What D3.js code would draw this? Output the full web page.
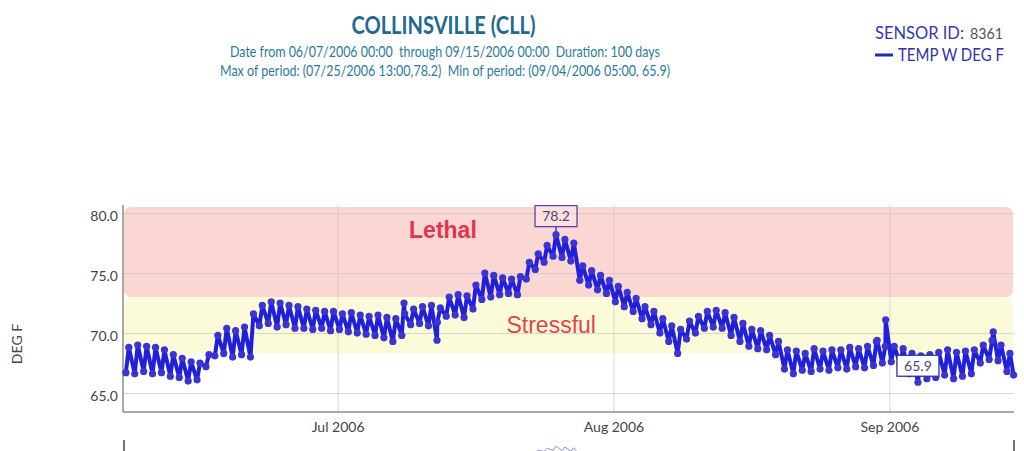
<!DOCTYPE html>
<html>
<head>
<meta charset="utf-8">
<script src="https://cdn.jsdelivr.net/npm/d3@7"></script>
<style>
  body { margin: 0; background: #fff; }
  svg { display: block; font-family: "Lato", "Noto Sans", sans-serif; }
  .pre { white-space: pre; }
</style>
</head>
<body>
<div id="chart"></div>
<script>
var svgWidth = 1024;
var svgHeight = 451;

var margin = { top: 205, right: 10, bottom: 39, left: 123 };
var width = svgWidth - margin.left - margin.right;
var height = svgHeight - margin.top - margin.bottom;

// daily readings (deg F), one low (early morning) and one high (afternoon) per day, 06/07 .. 09/14
var firstDay = "2006-06-07";
var lowTemps = [
  66.7, 66.6, 66.8, 66.6, 66.7, 66.4, 66.3, 66.0, 66.1, 67.2,
  68.1, 68.3, 68.0, 68.2, 68.0, 70.6, 70.8, 70.5, 70.7, 70.4,
  70.4, 70.3, 70.4, 70.2, 70.3, 70.1, 70.0, 69.9, 69.8, 69.6,
  69.3, 69.8, 70.7, 70.8, 70.6, 70.9, 71.4, 71.5, 71.3, 72.0,
  72.8, 73.0, 73.2, 73.3, 73.2, 74.5, 75.3, 75.9, 76.4, 76.3,
  76.0, 74.4, 74.0, 73.6, 73.3, 72.6, 72.2, 71.8, 71.2, 70.7,
  70.0, 69.3, 68.3, 69.5, 70.0, 70.4, 70.5, 70.4, 69.8, 69.3,
  68.9, 68.7, 68.6, 68.2, 67.0, 66.6, 66.9, 66.8, 67.0, 66.9,
  67.1, 67.0, 67.2, 67.1, 67.3, 67.5, 67.6, 67.4, 66.6, 65.9,
  66.2, 66.3, 66.5, 66.2, 66.4, 66.6, 67.5, 67.8, 67.7, 66.8
];
var highTemps = [
  68.8, 69.0, 68.9, 68.8, 68.6, 68.2, 67.9, 67.6, 67.5, 68.2,
  69.8, 70.4, 70.2, 70.5, 71.6, 72.3, 72.6, 72.5, 72.3, 72.2,
  72.0, 71.9, 71.8, 71.8, 71.6, 71.7, 71.5, 71.4, 71.5, 71.3,
  71.2, 71.6, 72.0, 72.2, 72.3, 72.1, 73.0, 73.2, 73.1, 74.0,
  75.0, 74.8, 74.6, 74.5, 74.7, 75.9, 76.6, 77.3, 78.2, 77.8,
  77.5, 75.6, 75.2, 74.8, 74.4, 73.9, 73.4, 72.9, 72.2, 71.8,
  71.2, 70.6, 70.3, 71.0, 71.4, 71.8, 71.9, 71.7, 71.3, 70.8,
  70.3, 70.2, 69.8, 69.3, 68.6, 68.5, 68.3, 68.7, 68.5, 68.6,
  68.6, 68.8, 68.7, 68.9, 69.3, 68.9, 68.9, 68.7, 68.3, 68.1,
  68.2, 68.4, 68.6, 68.4, 68.5, 68.6, 69.0, 69.4, 69.0, 68.3
];
// single odd readings (spikes / dips) and the last reading
var extraTimes = ["2006-07-08 11:00", "2006-07-12 04:00", "2006-08-30 15:00", "2006-08-31 14:00", "2006-09-12 16:00", "2006-09-14 23:00"];
var extraTemps = [72.5, 69.4, 69.4, 71.1, 70.1, 66.5];

var yTicks = [65, 70, 75, 80];
var xTicks = ["2006-07-01", "2006-08-01", "2006-09-01"];

// threshold bands
var bandNames = ["Stressful", "Lethal"];
var bandLow = [68.3, 73.0];
var bandHigh = [73.0, 80.5];
var bandColors = ["#fcfbd9", "#fbd7d3"];
// band labels: [time, value]
var bandLabelTimes = ["2006-07-25 00:00", "2006-07-12 20:00"];
var bandLabelTemps = [70.7, 78.6];

var parseDay = d3.timeParse("%Y-%m-%d");
var parseTime = d3.timeParse("%Y-%m-%d %H:%M");

// build the series
var series = [];
var day0 = parseDay(firstDay);
lowTemps.forEach(function(v, i) {
  series.push({ t: d3.timeHour.offset(d3.timeDay.offset(day0, i), 5), v: v });
  series.push({ t: d3.timeHour.offset(d3.timeDay.offset(day0, i), 13), v: highTemps[i] });
});
extraTimes.forEach(function(s, i) {
  series.push({ t: parseTime(s), v: extraTemps[i] });
});
series.sort(function(a, b) { return a.t - b.t; });

var svg = d3.select("#chart")
  .append("svg")
  .attr("width", svgWidth)
  .attr("height", svgHeight);

// header (source font is a condensed sans, so squeeze lines to the measured widths)
svg.append("text")
  .attr("x", 443.5)
  .attr("y", 34)
  .attr("text-anchor", "middle")
  .attr("font-size", "25px")
  .attr("font-weight", "bold")
  .attr("fill", "#1f6a8e")
  .attr("textLength", 184)
  .attr("lengthAdjust", "spacingAndGlyphs")
  .text("COLLINSVILLE (CLL)");

svg.append("text")
  .attr("class", "pre")
  .attr("x", 445)
  .attr("y", 57)
  .attr("text-anchor", "middle")
  .attr("font-size", "16px")
  .attr("fill", "#2b7b9e")
  .attr("textLength", 430)
  .attr("lengthAdjust", "spacingAndGlyphs")
  .text("Date from 06/07/2006 00:00  through 09/15/2006 00:00  Duration: 100 days");

svg.append("text")
  .attr("class", "pre")
  .attr("x", 445)
  .attr("y", 76)
  .attr("text-anchor", "middle")
  .attr("font-size", "16px")
  .attr("fill", "#2b7b9e")
  .attr("textLength", 450)
  .attr("lengthAdjust", "spacingAndGlyphs")
  .text("Max of period: (07/25/2006 13:00,78.2)  Min of period: (09/04/2006 05:00, 65.9)");

// legend
var legend = svg.append("g").attr("transform", "translate(875, 0)");
legend.append("text")
  .attr("x", 0).attr("y", 39)
  .attr("font-size", "16.5px")
  .attr("fill", "#3838b4")
  .attr("textLength", 89)
  .attr("lengthAdjust", "spacingAndGlyphs")
  .text("SENSOR ID:");
legend.append("text")
  .attr("x", 95).attr("y", 39)
  .attr("font-size", "16px")
  .attr("fill", "#555")
  .attr("textLength", 33)
  .attr("lengthAdjust", "spacingAndGlyphs")
  .text("8361");
legend.append("line")
  .attr("x1", 0).attr("x2", 18)
  .attr("y1", 55).attr("y2", 55)
  .attr("stroke", "#2424c8")
  .attr("stroke-width", 3);
legend.append("text")
  .attr("x", 23).attr("y", 61)
  .attr("font-size", "16.5px")
  .attr("fill", "#3030b0")
  .attr("textLength", 106)
  .attr("lengthAdjust", "spacingAndGlyphs")
  .text("TEMP W DEG F");

var chartGroup = svg.append("g")
  .attr("transform", `translate(${margin.left}, ${margin.top})`);

var xTimeScale = d3.scaleTime()
  .domain([parseDay("2006-06-07"), parseDay("2006-09-15")])
  .range([1, width]);

var yLinearScale = d3.scaleLinear()
  .domain([63.42, 80.67])
  .range([height, 0]);

// bands
chartGroup.selectAll("rect.band")
  .data(bandNames)
  .enter()
  .append("rect")
  .attr("class", "band")
  .attr("x", xTimeScale.range()[0])
  .attr("width", xTimeScale.range()[1] - xTimeScale.range()[0] - 1)
  .attr("y", (d, i) => yLinearScale(bandHigh[i]))
  .attr("height", (d, i) => yLinearScale(bandLow[i]) - yLinearScale(bandHigh[i]))
  .attr("rx", 7)
  .attr("fill", (d, i) => bandColors[i]);

// gridlines
chartGroup.append("g")
  .call(d3.axisLeft(yLinearScale).tickValues(yTicks).tickSize(-width).tickFormat(""))
  .call(g => g.select(".domain").remove())
  .selectAll("line")
  .attr("stroke", "#c8c8c8")
  .attr("stroke-opacity", 0.7);

chartGroup.append("g")
  .attr("transform", `translate(0, ${height})`)
  .call(d3.axisBottom(xTimeScale).tickValues(xTicks.map(parseDay)).tickSize(-height).tickFormat(""))
  .call(g => g.select(".domain").remove())
  .selectAll("line")
  .attr("stroke", "#c8c8c8")
  .attr("stroke-opacity", 0.7);

// band labels
chartGroup.selectAll("text.bandLabel")
  .data(bandNames)
  .enter()
  .append("text")
  .attr("class", "bandLabel")
  .attr("x", (d, i) => xTimeScale(parseTime(bandLabelTimes[i])))
  .attr("y", (d, i) => yLinearScale(bandLabelTemps[i]))
  .attr("dy", "0.35em")
  .attr("text-anchor", "middle")
  .attr("font-family", "'Liberation Sans', Arial, sans-serif")
  .attr("font-size", "23px")
  .attr("font-weight", d => d === "Lethal" ? "bold" : "normal")
  .attr("fill", d => d === "Lethal" ? "#e5334d" : "#e0444f")
  .text(d => d);

// axes
var leftAxis = d3.axisLeft(yLinearScale).tickValues(yTicks).tickFormat(d3.format(".1f")).tickSize(0).tickPadding(5);
var bottomAxis = d3.axisBottom(xTimeScale).tickValues(xTicks.map(parseDay)).tickFormat(d3.timeFormat("%b %Y")).tickSize(0).tickPadding(10);

var yAxis = chartGroup.append("g").call(leftAxis);
yAxis.select(".domain").attr("stroke", "#555").attr("d", `M0,0V${height}`);
yAxis.selectAll("text")
  .attr("dy", "0.55em")
  .attr("font-size", "14px")
  .attr("font-family", "Lato, sans-serif")
  .attr("fill", "#444");

var xAxis = chartGroup.append("g")
  .attr("transform", `translate(0, ${height})`)
  .call(bottomAxis);
xAxis.select(".domain").attr("stroke", "#555").attr("d", `M0,0H${width}`);
xAxis.selectAll("text")
  .attr("font-size", "14px")
  .attr("font-family", "Lato, sans-serif")
  .attr("fill", "#444");

chartGroup.append("text")
  .attr("transform", "rotate(-90)")
  .attr("y", 17 - margin.left)
  .attr("x", 0 - (344 - margin.top))
  .attr("dy", "0.35em")
  .attr("text-anchor", "middle")
  .attr("font-size", "14px")
  .attr("fill", "#444")
  .text("DEG F");

// series line + markers
var tempLine = d3.line()
  .x(d => xTimeScale(d.t))
  .y(d => yLinearScale(d.v));

chartGroup.append("path")
  .datum(series)
  .attr("d", tempLine)
  .attr("fill", "none")
  .attr("stroke", "#2020dc")
  .attr("stroke-width", 4)
  .attr("stroke-linejoin", "round");

chartGroup.selectAll("circle.pt")
  .data(series)
  .enter()
  .append("circle")
  .attr("class", "pt")
  .attr("cx", d => xTimeScale(d.t))
  .attr("cy", d => yLinearScale(d.v))
  .attr("r", 3.6)
  .attr("fill", "#3a34d2");

// max / min annotations
var maxPt = series.reduce((a, b) => (b.v > a.v ? b : a));
var minPt = series.reduce((a, b) => (b.v < a.v ? b : a));

[maxPt, minPt].forEach(function(p, i) {
  var px = xTimeScale(p.t);
  var py = yLinearScale(p.v);
  var g = chartGroup.append("g");
  if (i === 0) {
    g.append("line")
      .attr("x1", px).attr("x2", px)
      .attr("y1", py).attr("y2", py - 8)
      .attr("stroke", "#4b3cae")
      .attr("stroke-width", 1.5);
  }
  g.append("rect")
    .attr("x", px - 21)
    .attr("y", py - (i === 0 ? 29 : 27))
    .attr("width", 42)
    .attr("height", 21)
    .attr("fill", "#fff")
    .attr("fill-opacity", i === 0 ? 0.25 : 1)
    .attr("stroke", i === 0 ? "#5a42a8" : "#2f2fa0")
    .attr("stroke-width", 1.3);
  g.append("text")
    .attr("x", px)
    .attr("y", py - (i === 0 ? 18.5 : 16.5))
    .attr("dy", "0.35em")
    .attr("text-anchor", "middle")
    .attr("font-size", "14px")
    .attr("fill", "#4a4580")
    .text(p.v.toFixed(1));
});

// range slider strip below the axis
var sliderTop = 440;
var sliderHeight = 42;
var ySlider = d3.scaleLinear()
  .domain(yLinearScale.domain())
  .range([sliderTop + sliderHeight, sliderTop]);

svg.append("path")
  .datum(series)
  .attr("transform", `translate(${margin.left}, 0)`)
  .attr("d", d3.line().x(d => xTimeScale(d.t)).y(d => ySlider(d.v)))
  .attr("fill", "none")
  .attr("stroke", "#8c8cd4")
  .attr("stroke-width", 1);

svg.selectAll("line.grab")
  .data(xTimeScale.range())
  .enter()
  .append("line")
  .attr("class", "grab")
  .attr("x1", d => margin.left + d)
  .attr("x2", d => margin.left + d)
  .attr("y1", sliderTop)
  .attr("y2", svgHeight)
  .attr("stroke", "#444")
  .attr("stroke-width", 1.5);
</script>
</body>
</html>
